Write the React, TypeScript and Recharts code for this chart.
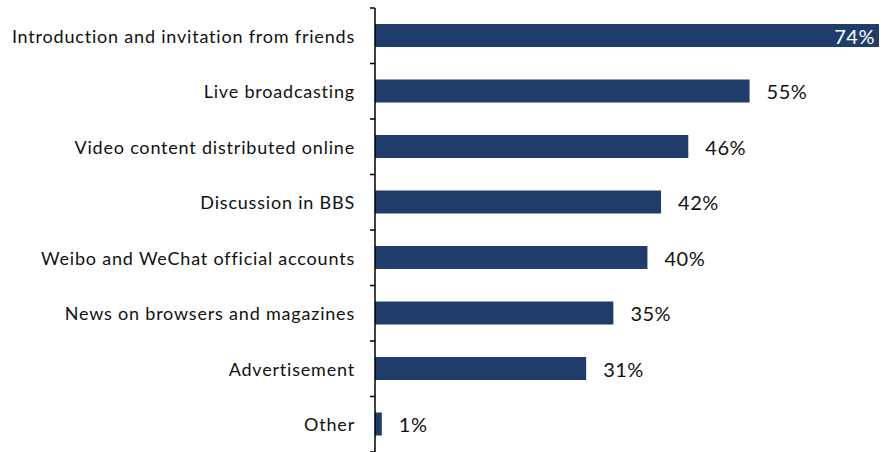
import React from 'react'
import { BarChart, Bar, XAxis, YAxis, LabelList } from 'recharts'

const categories = [
  'Introduction and invitation from friends',
  'Live broadcasting',
  'Video content distributed online',
  'Discussion in BBS',
  'Weibo and WeChat official accounts',
  'News on browsers and magazines',
  'Advertisement',
  'Other',
]
const shares = [74, 55, 46, 42, 40, 35, 31, 1]

const CHART_W = 886
const CHART_H = 452
const TOP = 8
const AXIS_W = 375
const PLOT_H = CHART_H - TOP
const BAR_COLOR = '#1F3C6B'
const FONT = 'Lato, "Liberation Sans", sans-serif'

const data = categories.map((name, i) => ({ name, value: shares[i] }))
const maxValue = Math.max(...shares)

const CategoryTick = (props: any) => {
  const { x, y, payload, index } = props
  const band = PLOT_H / categories.length
  const top = y - band / 2
  return (
    <g>
      <line x1={x - 5} x2={x} y1={top} y2={top} stroke="#000" strokeWidth={1.5} />
      {index === categories.length - 1 && (
        <line x1={x - 5} x2={x} y1={top + band} y2={top + band} stroke="#000" strokeWidth={1.5} />
      )}
      <text
        x={x - 20}
        y={y}
        textAnchor="end"
        dominantBaseline="central"
        fontSize={18}
        letterSpacing={0.8}
        fill="#111"
        fontFamily={FONT}
      >
        {payload.value}
      </text>
    </g>
  )
}

const ValueLabel = (props: any) => {
  const { x, y, width, height, value } = props
  const inside = value === maxValue
  return (
    <text
      x={inside ? x + width - 4 : x + width + 17}
      y={y + height / 2}
      textAnchor={inside ? 'end' : 'start'}
      dominantBaseline="central"
      fontSize={20}
      letterSpacing={0.5}
      fill={inside ? '#fff' : '#111'}
      fontFamily={FONT}
    >
      {value}%
    </text>
  )
}

export default function App() {
  return (
    <div style={{ position: 'absolute', left: 0, top: 0, background: '#fff' }}>
      <BarChart
        width={CHART_W}
        height={CHART_H}
        data={data}
        layout="vertical"
        margin={{ top: TOP, right: 7, bottom: 0, left: 0 }}
      >
        <XAxis type="number" domain={[0, maxValue]} hide />
        <YAxis
          type="category"
          dataKey="name"
          width={AXIS_W}
          axisLine={{ stroke: '#000', strokeWidth: 1.5 }}
          tickLine={false}
          tickSize={0}
          tickMargin={0}
          tick={<CategoryTick />}
          interval={0}
        />
        <Bar dataKey="value" fill={BAR_COLOR} barSize={23} isAnimationActive={false}>
          <LabelList dataKey="value" content={<ValueLabel />} />
        </Bar>
      </BarChart>
    </div>
  )
}
